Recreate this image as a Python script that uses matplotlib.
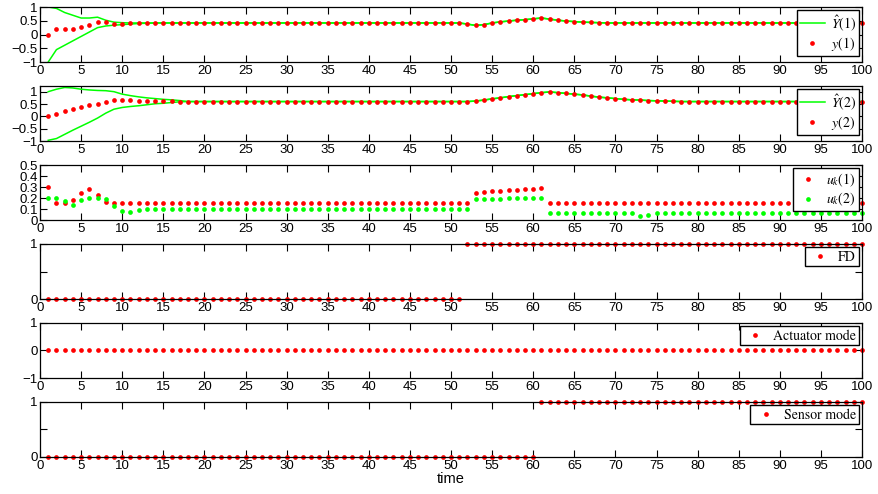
import numpy as np
import matplotlib
matplotlib.use("Agg")
from matplotlib import pyplot as plt

# time steps
t = np.arange(1, 101)

# output 1: measured y(1) and the band of estimates Y_hat(1)
y1 = ([0.0, 0.19, 0.19, 0.21, 0.26, 0.36, 0.45, 0.45, 0.39, 0.39, 0.41, 0.42]
      + [0.42] * 39
      + [0.38, 0.33, 0.36, 0.42, 0.46, 0.49, 0.52, 0.54, 0.57, 0.6, 0.56, 0.52,
         0.49, 0.47, 0.45, 0.44, 0.43]
      + [0.42] * 32)
y1_hi = [1.0, 0.95, 0.8, 0.7, 0.6, 0.6, 0.63, 0.52, 0.45, 0.43, 0.42, 0.42] + y1[12:]
y1_lo = [-1.0, -0.55, -0.39, -0.23, -0.07, 0.09, 0.25, 0.31, 0.34, 0.36, 0.38,
         0.4, 0.41] + y1[13:]

# output 2
y2 = ([0.0, 0.1, 0.21, 0.3, 0.37, 0.44, 0.52, 0.6, 0.67, 0.67, 0.65, 0.64, 0.63,
       0.63, 0.61, 0.61, 0.6]
      + [0.6] * 35
      + [0.62, 0.66, 0.71, 0.75, 0.8, 0.84, 0.88, 0.92, 0.96, 0.99, 0.96, 0.93,
         0.9, 0.87, 0.82, 0.78, 0.75, 0.72, 0.69, 0.67, 0.66, 0.64, 0.63, 0.62, 0.61]
      + [0.6] * 23)
y2_hi = [1.0, 1.1, 1.17, 1.15, 1.1, 1.07, 1.05, 1.04, 1.0, 0.9, 0.84, 0.79, 0.75,
         0.72, 0.69, 0.67, 0.64] + y2[17:]
y2_lo = [-0.97, -0.9, -0.73, -0.56, -0.4, -0.24, -0.07, 0.13, 0.29, 0.36, 0.4,
         0.43, 0.47, 0.51, 0.53, 0.56, 0.59] + y2[17:]

# control inputs
u1 = ([0.3, 0.155, 0.155, 0.185, 0.25, 0.28, 0.23, 0.16, 0.155]
      + [0.155] * 43
      + [0.25, 0.255, 0.26, 0.265, 0.27, 0.275, 0.28, 0.285, 0.29]
      + [0.155] * 39)
u2 = ([0.2, 0.2, 0.17, 0.14, 0.18, 0.2, 0.2, 0.19, 0.125, 0.08, 0.075, 0.095]
      + [0.1] * 40
      + [0.19, 0.19, 0.195, 0.195, 0.2, 0.2, 0.2, 0.2, 0.2]
      + [0.06] * 11
      + [0.04, 0.045]
      + [0.06] * 26)

# fault detection and mode flags
fd = [0] * 51 + [1] * 49
actuator = [0] * 100
sensor = [0] * 60 + [1] * 40

xticks = list(range(0, 101, 5))

RED = (1, 0, 0)
GREEN = (0, 1, 0)

plt.rcParams['font.family'] = ['Liberation Sans', 'DejaVu Sans']
plt.rcParams['font.size'] = 9.5
plt.rcParams['mathtext.fontset'] = 'stix'
plt.rcParams['axes.linewidth'] = 0.9

fig = plt.figure(figsize=(8.79, 4.94), dpi=100)
gs = fig.add_gridspec(6, 1, left=0.0455, right=0.9807, top=0.9858,
                      bottom=0.0749, hspace=0.436)
axes = [fig.add_subplot(gs[i]) for i in range(6)]

dot = dict(linestyle='none', marker='o', markersize=3.4, markeredgewidth=0,
           clip_on=False)


def style(ax, ylim, yticks, yticklabels):
    ax.set_xlim(0, 100)
    ax.set_ylim(*ylim)
    ax.set_xticks(xticks)
    ax.set_yticks(yticks)
    ax.set_yticklabels(yticklabels)
    ax.tick_params(direction='in', top=True, right=True, length=5, width=0.8)
    ax.tick_params(axis='x', pad=2)
    ax.tick_params(axis='y', pad=1.5)


def legend(ax, handles, labels):
    leg = ax.legend(handles, labels, loc='upper right', fancybox=False,
                    framealpha=1, edgecolor='black', borderaxespad=0.25,
                    borderpad=0.2, labelspacing=0.15, handlelength=1.8,
                    handletextpad=0.4, numpoints=1,
                    prop={'family': 'STIXGeneral', 'size': 10})
    leg.get_frame().set_linewidth(1.0)


# panel 1
ax = axes[0]
l1, = ax.plot(t, y1_hi, color=GREEN, lw=1.1)
ax.plot(t, y1_lo, color=GREEN, lw=1.1)
p1, = ax.plot(t, y1, color=RED, **dot)
style(ax, (-1, 1), [-1, -0.5, 0, 0.5, 1], ['\u22121', '\u22120.5', '0', '0.5', '1'])
legend(ax, [l1, p1], [r'$\hat{Y}(1)$', r'$y(1)$'])

# panel 2
ax = axes[1]
l2, = ax.plot(t, y2_hi, color=GREEN, lw=1.1)
ax.plot(t, y2_lo, color=GREEN, lw=1.1)
p2, = ax.plot(t, y2, color=RED, **dot)
style(ax, (-1, 1.23), [-1, -0.5, 0, 0.5, 1], ['\u22121', '\u22120.5', '0', '0.5', '1'])
legend(ax, [l2, p2], [r'$\hat{Y}(2)$', r'$y(2)$'])

# panel 3
ax = axes[2]
q1, = ax.plot(t, u1, color=RED, **dot)
q2, = ax.plot(t, u2, color=GREEN, **dot)
style(ax, (0, 0.5), [0, 0.1, 0.2, 0.3, 0.4, 0.5],
      ['0', '0.1', '0.2', '0.3', '0.4', '0.5'])
legend(ax, [q1, q2], [r'$u_k(1)$', r'$u_k(2)$'])

# panel 4
ax = axes[3]
f, = ax.plot(t, fd, color=RED, **dot)
style(ax, (0, 1), [0, 0.5, 1], ['0', '', '1'])
legend(ax, [f], ['FD'])

# panel 5
ax = axes[4]
a, = ax.plot(t, actuator, color=RED, **dot)
style(ax, (-1, 1), [-1, 0, 1], ['\u22121', '0', '1'])
legend(ax, [a], ['Actuator mode'])

# panel 6
ax = axes[5]
s, = ax.plot(t, sensor, color=RED, **dot)
style(ax, (0, 1), [0, 0.5, 1], ['0', '', '1'])
legend(ax, [s], ['Sensor mode'])
ax.set_xlabel('time', fontsize=10.5, labelpad=0)

fig.savefig('out.png', dpi=100)
